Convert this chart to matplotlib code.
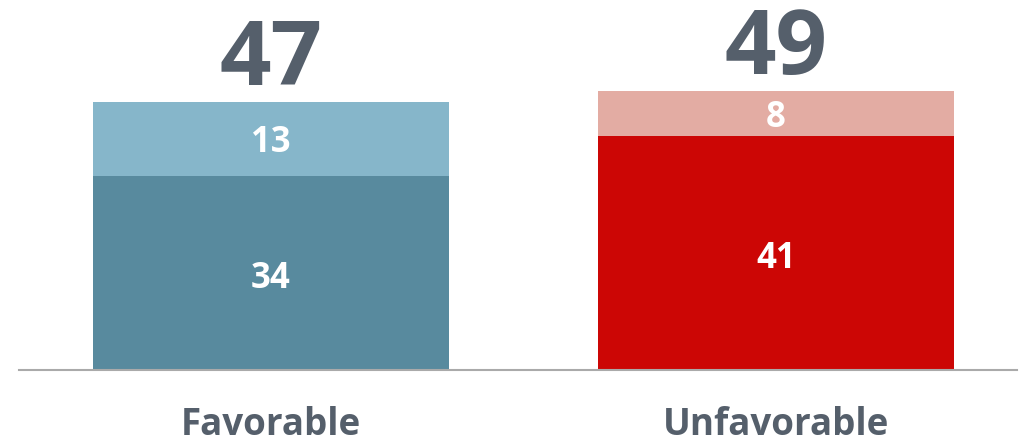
import matplotlib
matplotlib.use("Agg")
import matplotlib.pyplot as plt

categories = ["Favorable", "Unfavorable"]
strong = [34, 41]
somewhat = [13, 8]
totals = [47, 49]

strong_colors = ["#588a9e", "#cc0605"]
light_colors = ["#86b6ca", "#e3aca3"]
text_color = "#555f6b"

plt.rcParams['font.family'] = ['Open Sans', 'DejaVu Sans']

fig = plt.figure(figsize=(10.35, 4.46), dpi=100)
ax = fig.add_axes([19/1035, 76/446, 998/1035, 370/446])
x = list(range(len(categories)))
w = 0.705
ax.bar(x, strong, width=w, color=strong_colors)
ax.bar(x, somewhat, bottom=strong, width=w, color=light_colors)

for i in x:
    ax.annotate(str(strong[i]), (i, strong[i] / 2), xytext=(0, -4), textcoords='offset points',
                ha='center', va='center', color='white', fontsize=25, fontweight='bold')
    ax.annotate(str(somewhat[i]), (i, strong[i] + somewhat[i] / 2), xytext=(0, -3),
                textcoords='offset points', ha='center', va='center',
                color='white', fontsize=25, fontweight='bold')
    ax.annotate(str(totals[i]), (i, totals[i]), xytext=(0, 12), textcoords='offset points',
                ha='center', va='baseline', color=text_color, fontsize=65, fontweight='bold')
    ax.annotate(categories[i], (i, 0), xytext=(0, -47), textcoords='offset points',
                ha='center', va='baseline', color=text_color, fontsize=26.5, fontweight='bold',
                annotation_clip=False)

ax.set_xlim(-252/505, (998-252)/505)
ax.set_ylim(0, 370/5.70)
for s in ['top', 'right', 'left']:
    ax.spines[s].set_visible(False)
ax.spines['bottom'].set_color('#aaaaaa')
ax.spines['bottom'].set_linewidth(1.5)
ax.set_xticks([])
ax.set_yticks([])
fig.savefig("out.png", dpi=100)
